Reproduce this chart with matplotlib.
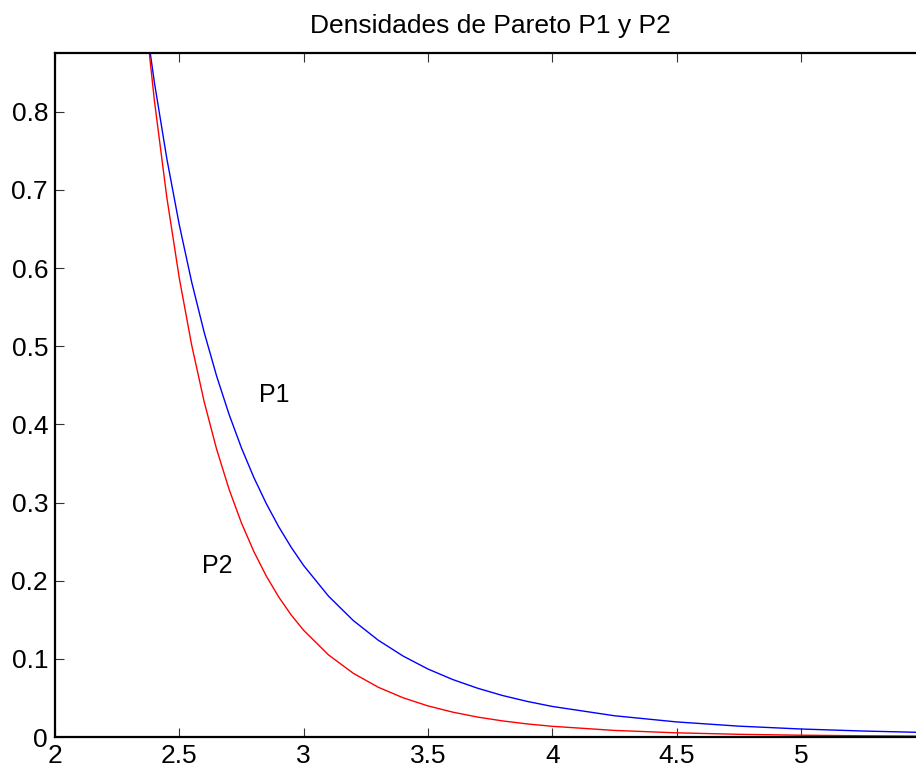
import matplotlib
matplotlib.use("Agg")
import matplotlib.pyplot as plt

# values
x_vals = [2.35, 2.40, 2.45, 2.50, 2.55, 2.60, 2.65, 2.70, 2.75, 2.80,
          2.85, 2.90, 2.95, 3.00, 3.10, 3.20, 3.30, 3.40, 3.50, 3.60,
          3.70, 3.80, 3.90, 4.00, 4.25, 4.50, 4.75, 5.00, 5.25, 5.50]
p1_vals = [0.950, 0.8373, 0.7398, 0.6554, 0.5819, 0.5179, 0.4620, 0.4130, 0.3699, 0.3320,
           0.2986, 0.2690, 0.2428, 0.2195, 0.1803, 0.1490, 0.1239, 0.1036, 0.0870, 0.0735,
           0.0624, 0.0531, 0.0455, 0.0391, 0.0272, 0.0193, 0.0139, 0.01024, 0.00764, 0.00578]
p2_vals = [0.963, 0.8140, 0.6902, 0.5872, 0.5012, 0.4291, 0.3684, 0.3172, 0.2739, 0.2372,
           0.2059, 0.1791, 0.1562, 0.1366, 0.1051, 0.0815, 0.0637, 0.0502, 0.0398, 0.0318,
           0.0255, 0.0206, 0.0167, 0.0137, 0.00842, 0.00533, 0.00346, 0.00229, 0.00155, 0.00107]

x_ticks = [2, 2.5, 3, 3.5, 4, 4.5, 5]
x_tick_labels = ["2", "2.5", "3", "3.5", "4", "4.5", "5"]
y_ticks = [0, 0.1, 0.2, 0.3, 0.4, 0.5, 0.6, 0.7, 0.8]
y_tick_labels = ["0", "0.1", "0.2", "0.3", "0.4", "0.5", "0.6", "0.7", "0.8"]

plt.rcParams['font.family'] = ['Liberation Sans', 'DejaVu Sans']

fig = plt.figure(figsize=(9.16, 7.74), dpi=100)
ax = fig.add_axes([0.06, 0.0478, 0.950, 0.8841])

ax.plot(x_vals, p1_vals, color='#0000ff', lw=1.0)
ax.plot(x_vals, p2_vals, color='#ff0000', lw=1.0)

ax.text(2.82, 0.437, "P1", fontsize=18, ha='left', va='center')
ax.text(2.59, 0.219, "P2", fontsize=18, ha='left', va='center')

ax.set_xlim(2, 5.5)
ax.set_ylim(0, 0.8755)
ax.set_xticks(x_ticks)
ax.set_xticklabels(x_tick_labels)
ax.set_yticks(y_ticks)
ax.set_yticklabels(y_tick_labels)
ax.tick_params(direction='in', length=6.5, width=0.8, labelsize=19, pad=5,
               top=True, right=True, color='#333333')

for s in ax.spines.values():
    s.set_linewidth(1.6)

ax.set_title("Densidades de Pareto P1 y P2", fontsize=19, pad=14)

fig.savefig("out.png", dpi=100)
